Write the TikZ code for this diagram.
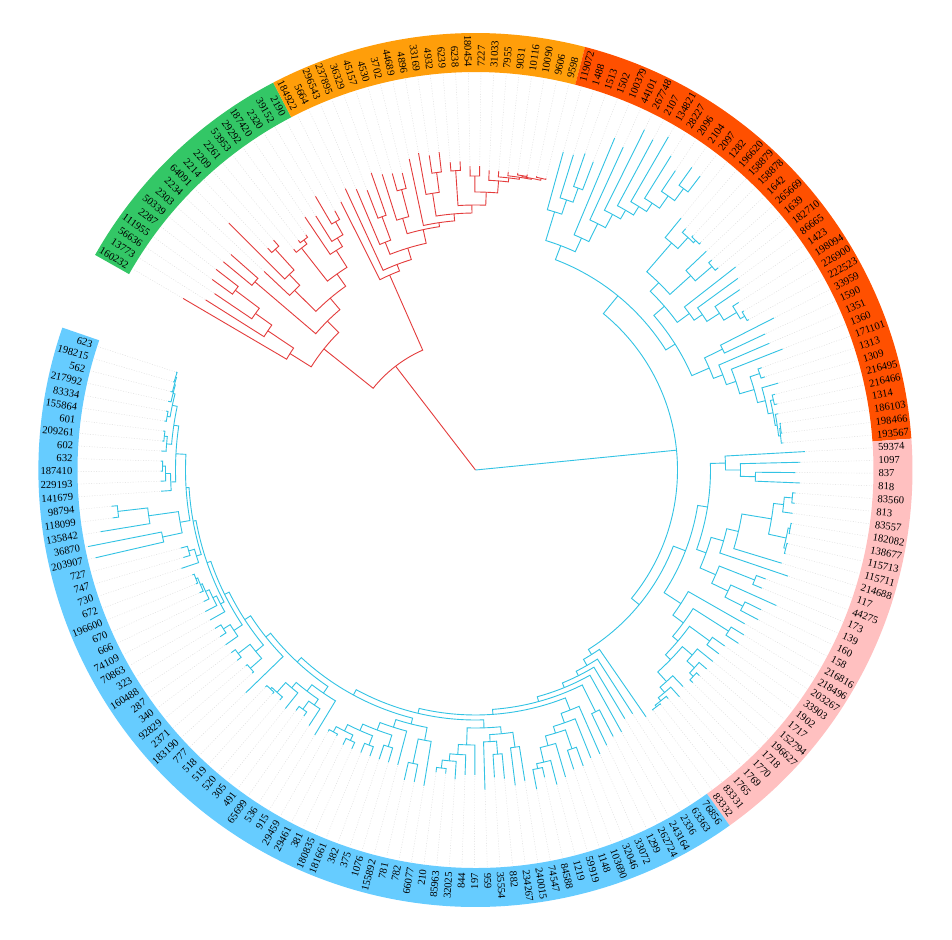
\documentclass[tikz,border=0pt]{standalone}
\usepackage{fontspec}
\setmainfont{Liberation Serif}
\definecolor{cgreen}{RGB}{51,199,102}
\definecolor{corange}{RGB}{255,158,10}
\definecolor{cred}{RGB}{255,80,0}
\definecolor{cpink}{RGB}{255,192,192}
\definecolor{cblue}{RGB}{102,204,255}
\definecolor{lred}{RGB}{228,60,60}
\definecolor{lcyan}{RGB}{50,195,228}
\def\tz{149.6}
\def\s{1.83}
\newcommand\band[3]{%
 \fill[#1] ({\tz-\s*(#2-0.5)}:398pt) arc[start angle={\tz-\s*(#2-0.5)}, end angle={\tz-\s*(#3+0.5)}, radius=398pt] -- ({\tz-\s*(#3+0.5)}:437pt) arc[start angle={\tz-\s*(#3+0.5)}, end angle={\tz-\s*(#2-0.5)}, radius=437pt] -- cycle;}
\newcommand\lfchk[2]{\pgfmathtruncatemacro\isint{abs((#1)-round(#1))<0.001}\ifnum\isint=1 \draw[lead] ({\tz-\s*(#1)}:#2pt+1pt) -- ({\tz-\s*(#1)}:397pt);\fi}
\newcommand\nd[5]{%
 \draw[tree] ({\tz-\s*(#2)}:#3pt) -- ({\tz-\s*(#2)}:#1pt) arc[start angle={\tz-\s*(#2)}, end angle={\tz-\s*(#4)}, radius=#1pt] -- ({\tz-\s*(#4)}:#5pt);
 \lfchk{#2}{#3}\lfchk{#4}{#5}}
\tikzset{
 lead/.style={draw=gray!28, line width=0.4pt, dash pattern=on 1pt off 1.6pt},
 tree/.style={line width=0.9pt},
 lab/.style={inner sep=0pt, font=\fontsize{10.6}{11}\selectfont, text=black}
}
\begin{document}
\begin{tikzpicture}[x=1pt,y=1pt]
\useasboundingbox (-475.5,-469) rectangle (476.5,470);
\fill[white] (-475.5,-469) rectangle (476.5,470);
% colour bands
\band{cgreen}{0}{17}
\band{corange}{18}{40}
\band{cred}{41}{79}
\band{cpink}{80}{111}
\band{cblue}{112}{190}
% ---------------- red clade: Archaea + Eukaryota
\begin{scope}[tree/.append style={draw=lred}]
\draw[tree] (0,0) -- ({\tz-\s*(12.03)}:131pt);
\nd{131}{4.49}{194}{19.58}{213}
\nd{194}{0.9375}{219}{8.05}{210}
\nd{219}{0}{339}{1.875}{250}
\nd{250}{1}{319}{2.75}{270}
\nd{270}{2}{315}{3.5}{300}
\nd{300}{3}{325}{4}{328}
\nd{210}{5.5}{290}{10.59}{225}
\nd{290}{5}{327}{6}{326}
\nd{225}{7.875}{255}{13.3125}{240}
\nd{255}{7}{290}{8.75}{270}
\nd{270}{8}{349}{9.5}{298}
\nd{298}{9}{304}{10}{306}
\nd{240}{11.75}{282}{14.875}{260}
\nd{282}{11}{286}{12.5}{287}
\nd{287}{12}{290}{13}{290}
\nd{260}{14}{305}{15.75}{270}
\nd{270}{15}{300}{16.5}{285}
\nd{285}{16}{317}{17}{295}
% Eukaryota
\nd{213}{18}{300}{21.15}{220}
\nd{220}{19}{310}{23.3}{232}
\nd{232}{20.75}{245}{25.86}{246}
\nd{245}{20}{305}{21.5}{270}
\nd{270}{21}{300}{22}{315}
\nd{246}{23.75}{262}{27.97}{250}
\nd{262}{23}{310}{24.5}{290}
\nd{290}{24}{308}{25}{306}
\nd{250}{26}{318}{29.95}{257}
\nd{257}{27.75}{280}{32.14}{265}
\nd{280}{27}{322}{28.5}{300}
\nd{300}{28}{318}{29}{320}
\nd{265}{30.5}{300}{33.78}{278}
\nd{300}{30}{309}{31}{309}
\nd{278}{32.5}{294}{35.0625}{290}
\nd{294}{32}{304}{33}{304}
\nd{290}{34}{300}{36.125}{294}
\nd{294}{35}{300}{37.25}{296}
\nd{296}{36}{300}{38.5}{297}
\nd{297}{37.5}{298}{39.5}{299}
\nd{298}{37}{300}{38}{300}
\nd{299}{39}{300}{40}{300}
\end{scope}
% ---------------- cyan clade: Bacteria
\begin{scope}[tree/.append style={draw=lcyan}]
\draw[tree] (0,0) -- ({\tz-\s*(78.67)}:202pt);
\nd{202}{54.03}{225}{103.3}{212}
% Firmicutes
\nd{225}{43.94}{240}{64.13}{236}
\nd{240}{41.875}{270}{45.99}{255}
\nd{270}{41}{330}{42.75}{285}
\nd{285}{42}{330}{43.5}{300}
\nd{300}{43}{335}{44}{330}
\nd{255}{45}{360}{46.99}{275}
\nd{275}{46}{355}{47.98}{290}
\nd{290}{47}{380}{48.97}{300}
\nd{300}{48}{375}{49.94}{310}
\nd{310}{49}{385}{50.875}{320}
\nd{320}{50}{370}{51.75}{335}
\nd{335}{51}{360}{52.5}{350}
\nd{350}{52}{372}{53}{370}
\nd{236}{59.39}{250}{68.87}{255}
\nd{250}{56.81}{262}{61.97}{265}
\nd{262}{54.875}{300}{58.75}{290}
\nd{300}{54}{325}{55.75}{315}
\nd{315}{55}{320}{56.5}{318}
\nd{318}{56}{320}{57}{320}
\nd{290}{58}{318}{59.5}{312}
\nd{312}{59}{316}{60}{316}
\nd{265}{61}{330}{62.94}{275}
\nd{275}{62}{325}{63.875}{290}
\nd{290}{63}{320}{64.75}{305}
\nd{305}{64}{312}{65.5}{310}
\nd{310}{65}{312}{66}{312}
\nd{255}{67.5}{275}{70.24}{265}
\nd{275}{67}{335}{68}{320}
\nd{265}{69}{320}{71.48}{275}
\nd{275}{70}{330}{72.95}{290}
\nd{290}{71.5}{300}{74.4}{298}
\nd{300}{71}{304}{72}{304}
\nd{298}{73}{315}{75.8}{303}
\nd{303}{74.5}{306}{77.125}{305}
\nd{306}{74}{309}{75}{309}
\nd{305}{76}{308}{78.25}{307}
\nd{307}{77.5}{308}{79}{309}
\nd{308}{77}{309}{78}{309}
% rest of bacteria
\nd{212}{93.25}{225}{113.35}{218}
\nd{225}{86.7}{235}{99.8}{245}
\nd{235}{80.875}{250}{92.55}{245}
\nd{250}{80}{330}{81.75}{265}
\nd{265}{81}{325}{82.5}{280}
\nd{280}{82}{320}{83}{325}
\nd{245}{90.47}{258}{94.625}{262}
\nd{258}{88.94}{270}{92}{330}
\nd{270}{86.875}{300}{91}{320}
\nd{300}{85.25}{310}{88.5}{318}
\nd{310}{84.5}{318}{86}{320}
\nd{318}{84}{321}{85}{321}
\nd{318}{87.5}{320}{89.5}{320}
\nd{320}{87}{321}{88}{321}
\nd{320}{89}{321}{90}{321}
\nd{262}{93.5}{300}{95.75}{280}
\nd{300}{93}{310}{94}{310}
\nd{280}{95}{330}{96.5}{300}
\nd{300}{96}{318}{97}{320}
\nd{245}{98}{310}{101.6}{258}
\nd{258}{99.5}{300}{103.7}{265}
\nd{300}{99}{315}{100}{315}
\nd{265}{101.5}{290}{105.9}{272}
\nd{290}{101}{305}{102}{305}
\nd{272}{103.875}{285}{107.94}{285}
\nd{285}{103}{305}{104.75}{295}
\nd{295}{104}{305}{105.5}{300}
\nd{300}{105}{304}{106}{304}
\nd{285}{107}{300}{108.875}{292}
\nd{292}{108}{305}{109.75}{296}
\nd{296}{109}{299}{110.5}{298}
\nd{298}{110}{299}{111}{299}
\nd{218}{112}{300}{114.7}{225}
\nd{225}{113}{290}{116.4}{230}
\nd{230}{114}{290}{118.8}{235}
\nd{235}{115}{300}{122.6}{240}
\nd{240}{116.5}{270}{128.7}{245}
\nd{270}{116}{300}{117}{305}
\nd{245}{119.17}{258}{138.2}{250}
\nd{258}{118}{310}{120.34}{268}
\nd{268}{119}{310}{121.69}{275}
\nd{275}{120.5}{295}{122.875}{285}
\nd{295}{120}{315}{121}{315}
\nd{285}{122}{320}{123.75}{300}
\nd{300}{123}{325}{124.5}{305}
\nd{305}{124}{315}{125}{325}
\nd{250}{129.9}{258}{146.5}{256}
\nd{258}{127.875}{265}{131.94}{275}
\nd{265}{126.5}{280}{129.25}{272}
\nd{280}{126}{315}{127}{318}
\nd{272}{128.5}{285}{130}{320}
\nd{285}{128}{310}{129}{308}
\nd{275}{131}{305}{132.875}{285}
\nd{285}{132}{305}{133.75}{292}
\nd{292}{133}{310}{134.5}{300}
\nd{300}{134}{305}{135}{305}
\nd{256}{138.7}{262}{154.36}{262}
\nd{262}{136.75}{275}{140.6}{270}
\nd{275}{136}{320}{137.5}{300}
\nd{300}{137}{318}{138}{318}
\nd{270}{139}{305}{142.25}{278}
\nd{278}{140.5}{290}{144.001}{285}
\nd{290}{140}{305}{141}{305}
\nd{285}{142.5}{295}{145.5}{292}
\nd{295}{142}{305}{143}{305}
\nd{292}{144.5}{298}{146.5}{298}
\nd{298}{144}{305}{145}{305}
\nd{298}{146}{300}{147}{300}
\nd{262}{149.66}{270}{159.05}{268}
\nd{270}{148}{310}{151.31}{278}
\nd{278}{149.75}{285}{152.875}{285}
\nd{285}{149}{305}{150.5}{295}
\nd{295}{150}{300}{151}{300}
\nd{285}{152}{305}{153.75}{298}
\nd{298}{153}{302}{154.5}{300}
\nd{300}{154}{302}{155}{302}
\nd{268}{156}{320}{162.1}{275}
\nd{275}{158.5}{285}{165.7}{280}
\nd{285}{157.5}{300}{159.5}{300}
\nd{300}{157}{302}{158}{302}
\nd{300}{159}{305}{160}{305}
\nd{280}{161.75}{290}{169.7}{284}
\nd{290}{161}{305}{162.5}{298}
\nd{298}{162}{305}{163}{305}
\nd{284}{164.97}{288}{174.5}{287}
\nd{288}{164}{305}{165.94}{292}
\nd{292}{165}{305}{166.875}{296}
\nd{296}{166}{302}{167.75}{298}
\nd{298}{167}{302}{168.5}{300}
\nd{300}{168}{302}{169}{302}
\nd{287}{170.75}{292}{178.2}{290}
\nd{292}{170}{310}{171.5}{298}
\nd{298}{171}{305}{172}{305}
\nd{290}{174.625}{300}{181.8}{300}
\nd{300}{173.5}{320}{175.75}{330}
\nd{320}{173}{390}{174}{395}
\nd{330}{175}{380}{176.5}{360}
\nd{360}{176}{366}{177}{366}
\nd{300}{178.875}{305}{184.72}{305}
\nd{305}{178}{315}{179.75}{310}
\nd{310}{179}{315}{180.5}{313}
\nd{313}{180}{315}{181}{315}
\nd{305}{182.75}{310}{186.69}{310}
\nd{310}{182}{315}{183.5}{313}
\nd{313}{183}{315}{184}{315}
\nd{310}{185.5}{313}{187.875}{312}
\nd{313}{185}{315}{186}{315}
\nd{312}{187}{315}{188.75}{313}
\nd{313}{188}{315}{189.5}{314}
\nd{314}{189}{315}{190}{315}
\end{scope}
% ---------------- labels
\foreach \t [count=\i from 0] in {160232,13773,56636,111955,2287,50339,2303,2234,64091,2214,2209,2261,53953,29292,187420,2320,39152,2190,
184922,5664,296543,237895,36329,45157,4530,3702,44689,4896,33169,4932,6239,6238,180454,7227,31033,7955,9031,10116,10090,9606,9598,
119072,1488,1513,1502,100379,44101,267748,2107,134821,28227,2096,2104,2097,1282,196620,158879,158878,1642,265669,1639,182710,86665,1423,198094,226900,222523,33959,1590,1351,1360,171101,1313,1309,216495,216466,1314,186103,198466,193567,
59374,1097,837,818,83560,813,83557,182082,138677,115713,115711,214688,117,44275,173,139,160,158,216816,218496,203267,33903,1902,1717,152794,196627,1718,1770,1769,1765,83331,83332,
76856,63363,2336,243164,262724,1299,33072,32046,103690,1148,59919,1219,84588,74547,240015,234267,882,35554,959,197,844,32025,85963,210,66077,782,781,155892,1076,375,382,181661,180835,381,29461,29459,915,536,65699,491,305,520,519,518,777,183190,2371,92829,340,287,160488,323,70863,74109,666,670,196600,672,730,747,727,203907,36870,135842,118099,98794,141679,229193,187410,632,602,209261,601,155864,83334,217992,562,198215,623}{
 \pgfmathsetmacro\a{\tz-\s*\i}
 \pgfmathtruncatemacro\side{cos(\a)>=0}
 \ifnum\side=1
  \node[lab, anchor=west, rotate=\a] (L\i) at (\a:403pt) {\t};
 \else
  \node[lab, anchor=east, rotate=\a+180] (L\i) at (\a:403pt) {\t};
 \fi
}
\end{tikzpicture}
\end{document}
